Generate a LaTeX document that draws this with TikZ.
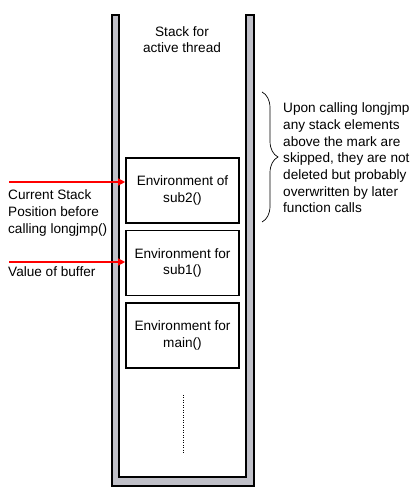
\documentclass[tikz,border=0pt]{standalone}
\usepackage{fontspec}
\setmainfont{Liberation Sans}
\usetikzlibrary{arrows.meta,positioning,decorations.pathreplacing}
\definecolor{StackGrey}{RGB}{192,192,200}
\definecolor{PtrRed}{RGB}{255,0,0}
\tikzset{envbox/.style={draw=black,line width=1.6pt,fill=white,align=center,minimum width=113pt,minimum height=65pt,inner sep=0pt}, note/.style={align=left,inner sep=3pt}, pointer/.style={-{Triangle[length=7pt,width=7pt]},color=PtrRed,line width=1.2pt}, wall/.style={draw=black,line width=2pt,fill=StackGrey}}

\begin{document}
\begin{tikzpicture}[x=1pt,y=1pt,font=\fontsize{13.6}{16.7}\selectfont,node distance=6pt]
\useasboundingbox (0,0) rectangle (417,497);
% stack walls
\draw[wall] (112,482) -- (112,11) -- (254,11) -- (254,482) -- (246,482) -- (246,20) -- (119,20) -- (119,482) -- cycle;
\node[align=center] (title) at (182,457.5) {Stack for\\active thread};
\node[envbox] (sub2) at (182.5,306.5) {Environment of\\sub2()};
\node[envbox,below=of sub2] (sub1) {Environment for\\sub1()};
\node[envbox,below=of sub1] (main) {Environment for\\main()};
\coordinate (dtop) at (183,102);
\coordinate (dbot) at (183,44);
\draw[line width=0.8pt,dash pattern=on 1pt off 1.5pt] (dtop) -- (dbot);
% pointers into the stack
\coordinate (curpos) at (9,315);
\coordinate (bufval) at (9,235);
\draw[pointer] (curpos) -- (curpos -| sub2.west);
\draw[pointer] (bufval) -- (bufval -| sub1.west);
\node[note,anchor=west] (curtext) at (5,284) {Current Stack\\Position before\\calling longjmp()};
\node[note,anchor=west] (buftext) at (5,225) {Value of buffer};
% skipped region
\coordinate (btop) at (262,405);
\coordinate (bbot) at (262,275);
\draw[line width=0.7pt,decorate,decoration={brace,amplitude=16pt}] (btop) -- (bbot);
\node[note,anchor=west] (skipnote) at (280,339) {Upon calling longjmp\\any stack elements\\above the mark are\\skipped, they are not\\deleted but probably\\overwritten by later\\function calls};
\end{tikzpicture}
\end{document}
